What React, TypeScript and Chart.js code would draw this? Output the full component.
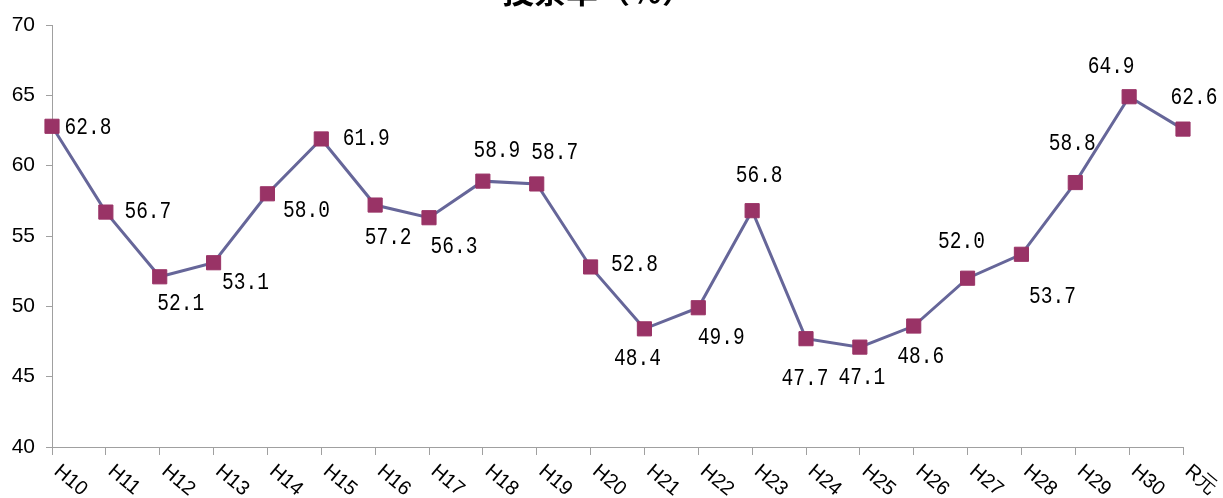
import React, { useEffect, useRef } from "react";
import { Chart, registerables } from "chart.js";

Chart.register(...registerables);

const titleText = "投票率（％）";
const categories = ["H10", "H11", "H12", "H13", "H14", "H15", "H16", "H17", "H18", "H19", "H20", "H21", "H22", "H23", "H24", "H25", "H26", "H27", "H28", "H29", "H30", "R元"];
const turnout = [62.8, 56.7, 52.1, 53.1, 58.0, 61.9, 57.2, 56.3, 58.9, 58.7, 52.8, 48.4, 49.9, 56.8, 47.7, 47.1, 48.6, 52.0, 53.7, 58.8, 64.9, 62.6];
const yMin = 40;
const yMax = 70;
const yStep = 5;

// label placement relative to each point (pixels)
const labelOffsets: [number, number][] = [
  [36, 2], [42, 0], [21, 27], [32, 20], [39, 17], [45, 0], [13, 33], [25, 29],
  [14, -30], [18, -31], [44, -2], [-7, 30], [23, 30], [7, -35], [-1, 40], [2, 31],
  [7, 31], [-6, -36], [31, 43], [-3, -39], [-18, -30], [11, -31],
];

const overlayPlugin = {
  id: "overlay",
  afterDraw(chart: any) {
    const ctx = chart.ctx as CanvasRenderingContext2D;
    const xs = chart.scales.x;
    const area = chart.chartArea;
    ctx.save();
    ctx.fillStyle = "#000";
    // x labels, rotated clockwise
    ctx.font = '20px "Liberation Sans"';
    ctx.textAlign = "left";
    ctx.textBaseline = "top";
    categories.forEach((c, i) => {
      const px = xs.getPixelForTick(i);
      ctx.save();
      ctx.translate(px + 11, area.bottom + 14);
      ctx.rotate((40 * Math.PI) / 180);
      ctx.fillText(c, 0, 0);
      ctx.restore();
    });
    // data labels
    const meta = chart.getDatasetMeta(0);
    ctx.font = '23px "Liberation Mono"';
    ctx.textAlign = "center";
    ctx.textBaseline = "middle";
    meta.data.forEach((pt: any, i: number) => {
      const [dx, dy] = labelOffsets[i];
      ctx.save();
      ctx.translate(pt.x + dx, pt.y + dy);
      ctx.scale(0.85, 1);
      ctx.fillText(turnout[i].toFixed(1), 0, 0);
      ctx.restore();
    });
    // title (partly cut off at top)
    ctx.font = 'bold 32px "Noto Sans CJK JP"';
    ctx.textAlign = "center";
    ctx.textBaseline = "alphabetic";
    ctx.fillText(titleText, 598, 3);
    ctx.restore();
  },
};

export default function App() {
  const ref = useRef<HTMLCanvasElement | null>(null);
  useEffect(() => {
    if (!ref.current) return;
    const chart = new Chart(ref.current, {
      type: "line",
      data: {
        labels: categories,
        datasets: [
          {
            data: turnout,
            borderColor: "#666699",
            borderWidth: 3,
            pointStyle: "rect",
            pointRadius: 10,
            pointBackgroundColor: "#993366",
            pointBorderColor: "#993366",
            pointBorderWidth: 1,
            tension: 0,
            fill: false,
          },
        ],
      },
      options: {
        responsive: false,
        animation: false,
        devicePixelRatio: 1,
        layout: { padding: { top: 25, right: 40, left: 0, bottom: 0 } },
        plugins: { legend: { display: false }, tooltip: { enabled: false }, title: { display: false } },
        scales: {
          x: {
            type: "category",
            offset: false,
            grid: { drawOnChartArea: false, tickLength: 8, color: "#a0a0a0" },
            border: { color: "#a0a0a0", width: 1 },
            ticks: { display: false, autoSkip: false },
            afterFit: (s: any) => {
              s.height = 51;
            },
          },
          y: {
            min: yMin,
            max: yMax,
            ticks: { stepSize: yStep, color: "#000", padding: 11, font: { family: "Liberation Sans", size: 21 } },
            grid: { drawOnChartArea: false, tickLength: 6, color: "#a0a0a0" },
            border: { color: "#a0a0a0", width: 1 },
            afterFit: (s: any) => {
              s.width = 52;
            },
          },
        },
      },
      plugins: [overlayPlugin],
    });
    return () => chart.destroy();
  }, []);
  return (
    <div style={{ position: "absolute", left: 0, top: 0, width: 1223, height: 498, background: "#fff" }}>
      <canvas ref={ref} width={1223} height={498} style={{ width: 1223, height: 498 }} />
    </div>
  );
}
